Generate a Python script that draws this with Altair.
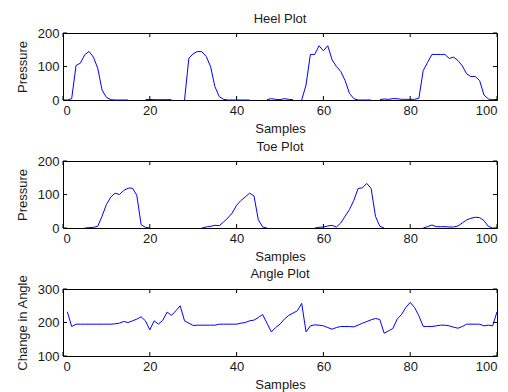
import altair as alt
import pandas as pd

samples = list(range(1, 101))

heel = [0, 4, 103, 110, 135, 145, 128, 95, 30, 8,
        1, 0, 0, 0, 0, None, None, None, 1, 2,
        1, 1, 1, 1, 1, None, None, 0, 125, 138,
        145, 144, 130, 100, 40, 10, 2, 0, 0, 0,
        0, 0, 0, None, None, None, 1, 4, 2, 1,
        4, 2, 1, None, 0, 45, 136, 136, 162, 147,
        162, 120, 100, 85, 58, 20, 4, 0, 0, 0,
        0, None, 1, 3, 2, 4, 4, 2, 2, 2,
        2, 5, 88, 112, 136, 136, 136, 136, 124, 128,
        118, 102, 78, 70, 70, 58, 15, 3, 1, 1]

toe = [None, None, None, None, 0, 1, 2, 5, 35, 70,
       92, 104, 100, 112, 119, 119, 98, 10, 2, 0,
       None, None, None, None, None, None, None, None, None, None,
       None, 0, 3, 5, 8, 7, 18, 30, 45, 68,
       82, 93, 104, 96, 25, 3, 0, None, None, None,
       None, None, None, None, None, None, None, 0, 2, 3,
       6, 8, 3, 15, 35, 55, 82, 118, 120, 133,
       118, 35, 5, 0, None, None, None, None, None, None,
       None, None, 0, 4, 9, 4, 4, 4, 3, 3,
       6, 15, 24, 29, 32, 31, 22, 5, 0, None]

angle = [232, 188, 195, 195, 195, 195, 195, 195, 195, 195,
         195, 196, 198, 203, 200, 205, 210, 217, 205, 178,
         205, 195, 207, 231, 221, 235, 250, 205, 198, 191,
         192, 192, 192, 192, 192, 195, 195, 195, 195, 195,
         198, 200, 205, 207, 215, 224, 198, 172, 185, 195,
         210, 221, 228, 235, 257, 172, 190, 193, 192, 190,
         185, 180, 185, 188, 188, 188, 187, 192, 198, 203,
         208, 212, 209, 168, 175, 182, 210, 224, 245, 260,
         245, 220, 188, 188, 188, 190, 192, 192, 190, 186,
         183, 188, 195, 195, 195, 195, 190, 192, 190, 232]

x_ticks = [0, 20, 40, 60, 80, 100]
pressure_ticks = [0, 100, 200]
angle_ticks = [100, 200, 300]

W, H = 434, 67
TL = 4
FONT = "Liberation Sans"
TXT = "#1a1a1a"


def to_frame(values):
    rows = []
    seg = 0
    for s, v in zip(samples, values):
        if v is None:
            seg += 1
            continue
        rows.append({"Samples": s, "value": v, "seg": seg})
    return pd.DataFrame(rows)


def panel(title, values, ylabel, ydomain, yticks, title_offset=1):
    df = to_frame(values)
    xscale = alt.Scale(domain=[0, 100], nice=False, zero=False)
    yscale = alt.Scale(domain=ydomain, nice=False, zero=False)
    xaxis = alt.Axis(values=x_ticks, title="Samples", format="d")
    yaxis = alt.Axis(values=yticks, title=ylabel, format="d")
    line = alt.Chart(df).mark_line(color="#0000ff", strokeWidth=1).encode(
        x=alt.X("Samples:Q", scale=xscale, axis=xaxis),
        y=alt.Y("value:Q", scale=yscale, axis=yaxis),
        detail="seg:N",
    )
    xt = pd.DataFrame({"t": x_ticks})
    yt = pd.DataFrame({"t": yticks})
    tick_b = alt.Chart(xt).mark_rule(color="black").encode(
        x=alt.X("t:Q", scale=xscale, axis=xaxis),
        y=alt.value(H - TL), y2=alt.value(H))
    tick_t = alt.Chart(xt).mark_rule(color="black").encode(
        x=alt.X("t:Q", scale=xscale, axis=xaxis),
        y=alt.value(0), y2=alt.value(TL))
    tick_l = alt.Chart(yt).mark_rule(color="black").encode(
        y=alt.Y("t:Q", scale=yscale, axis=yaxis),
        x=alt.value(0), x2=alt.value(TL))
    tick_r = alt.Chart(yt).mark_rule(color="black").encode(
        y=alt.Y("t:Q", scale=yscale, axis=yaxis),
        x=alt.value(W - TL), x2=alt.value(W))
    return alt.layer(line, tick_b, tick_t, tick_l, tick_r).properties(
        width=W, height=H,
        title=alt.TitleParams(title, fontSize=13, fontWeight="normal",
                              font=FONT, color=TXT, offset=title_offset,
                              frame="group"),
    )


chart = alt.vconcat(
    panel("Heel Plot", heel, "Pressure", [0, 200], pressure_ticks),
    panel("Toe Plot", toe, "Pressure", [0, 200], pressure_ticks),
    panel("Angle Plot", angle, "Change in Angle", [100, 300], angle_ticks,
          title_offset=-7),
    spacing=61,
    bounds="flush",
).properties(
    padding={"left": 7, "top": 4, "right": 0, "bottom": 0},
    background="white",
).configure_view(
    stroke="black", strokeWidth=1,
).configure_axis(
    ticks=False, domain=False, grid=False,
    labelFont=FONT, labelFontSize=13, labelColor=TXT, labelPadding=4,
    titleFont=FONT, titleFontSize=13, titleFontWeight="normal", titleColor=TXT,
    titlePadding=5,
).configure_axisY(
    labelPadding=4, titlePadding=8,
)

chart.save("out.html", embed_options={"renderer": "svg", "actions": False})
